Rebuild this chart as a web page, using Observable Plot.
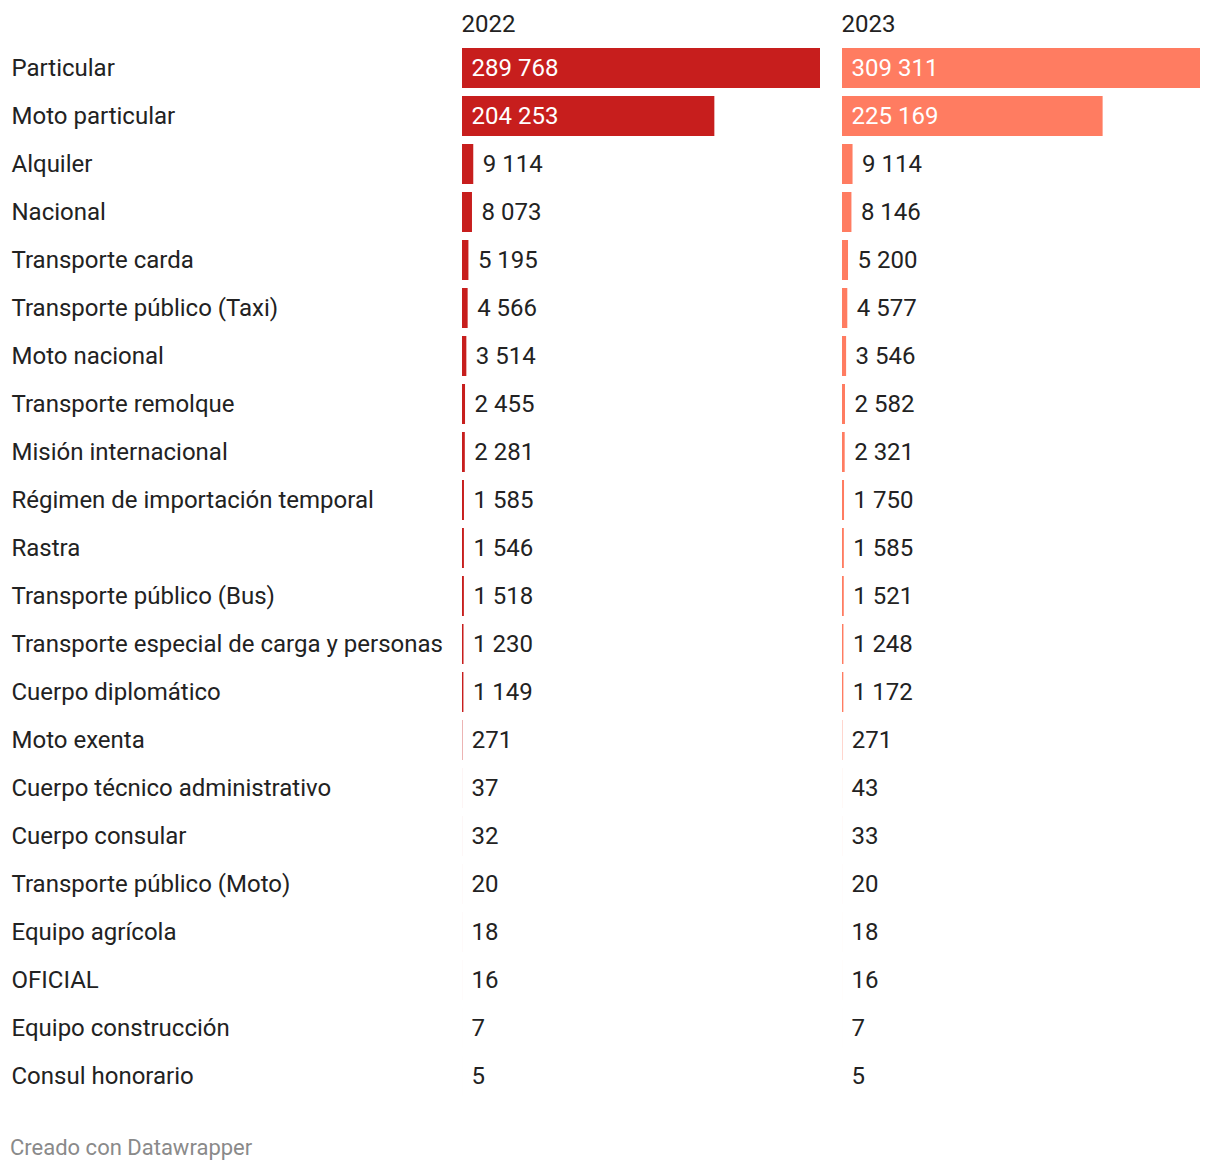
<!DOCTYPE html>
<html>
<head>
<meta charset="utf-8">
<script src="https://cdn.jsdelivr.net/npm/d3@7"></script>
<script src="https://cdn.jsdelivr.net/npm/@observablehq/plot@0.6"></script>
<style>
  body { margin: 0; background: #fff; font-family: Roboto, sans-serif; }
  #wrap { position: relative; width: 1220px; height: 1172px; }
  #charts { display: flex; position: absolute; left: 0; top: 0; }
  #caption { position: absolute; left: 10px; top: 1135px; font-size: 22px; color: #8a8a8a; font-family: Roboto, sans-serif; }
  svg { overflow: visible; }
</style>
</head>
<body>
<div id="wrap">
  <div id="charts"></div>
  <div id="caption">Creado con Datawrapper</div>
</div>
<script>
const categories = [
  "Particular", "Moto particular", "Alquiler", "Nacional", "Transporte carda",
  "Transporte público (Taxi)", "Moto nacional", "Transporte remolque",
  "Misión internacional", "Régimen de importación temporal", "Rastra",
  "Transporte público (Bus)", "Transporte especial de carga y personas",
  "Cuerpo diplomático", "Moto exenta", "Cuerpo técnico administrativo",
  "Cuerpo consular", "Transporte público (Moto)", "Equipo agrícola",
  "OFICIAL", "Equipo construcción", "Consul honorario"
];
const values2022 = [289768, 204253, 9114, 8073, 5195, 4566, 3514, 2455, 2281, 1585, 1546, 1518, 1230, 1149, 271, 37, 32, 20, 18, 16, 7, 5];
const values2023 = [309311, 225169, 9114, 8146, 5200, 4577, 3546, 2582, 2321, 1750, 1585, 1521, 1248, 1172, 271, 43, 33, 20, 18, 16, 7, 5];
const years = ["2022", "2023"];
const colors = { "2022": "#c71e1d", "2023": "#ff7c61" };

const fmt = d3.formatLocale({ decimal: ",", thousands: "\u2009", grouping: [3], currency: ["", ""] }).format(",d");
const fmtSp = v => fmt(v).replace(/\u2009/g, " ");

const H = 1110, MT = 44, MB = H - MT - 22 * 48;
const FS = 24;
const textColor = "#222";

function panel(year, vals, opts) {
  const data = categories.map((c, i) => ({ cat: c, value: vals[i] }));
  const max = d3.max(vals);
  const inside = d => d.value / max > 0.3;
  return Plot.plot({
    width: opts.width,
    height: H,
    marginLeft: opts.marginLeft,
    marginRight: opts.marginRight,
    marginTop: MT,
    marginBottom: MB,
    style: { fontFamily: "Roboto, sans-serif", fontSize: FS + "px", color: textColor, overflow: "visible" },
    x: { domain: [0, max], axis: null },
    y: { domain: categories, axis: null, paddingInner: 8 / 48, paddingOuter: 4 / 48 },
    marks: [
      Plot.barX(data, { x: "value", y: "cat", fill: colors[year] }),
      Plot.text(data.filter(inside), {
        x: 0, y: "cat", text: d => fmtSp(d.value), textAnchor: "start", dx: 9,
        fill: "white", fontSize: FS
      }),
      Plot.text(data.filter(d => !inside(d)), {
        x: "value", y: "cat", text: d => fmtSp(d.value), textAnchor: "start", dx: 9,
        fill: textColor, fontSize: FS
      }),
      Plot.text([year], {
        frameAnchor: "top-left", text: d => d, textAnchor: "start", lineAnchor: "middle",
        dx: -1, dy: -20, fill: textColor, fontSize: FS
      }),
      opts.labels ? Plot.text(data, {
        frameAnchor: "left", y: "cat", text: "cat", textAnchor: "start",
        dx: -opts.marginLeft + 11, fill: textColor, fontSize: FS
      }) : null
    ]
  });
}

const charts = document.getElementById("charts");
charts.appendChild(panel("2022", values2022, { width: 820, marginLeft: 462, marginRight: 0, labels: true }));
charts.appendChild(panel("2023", values2023, { width: 400, marginLeft: 22, marginRight: 20, labels: false }));
</script>
</body>
</html>
